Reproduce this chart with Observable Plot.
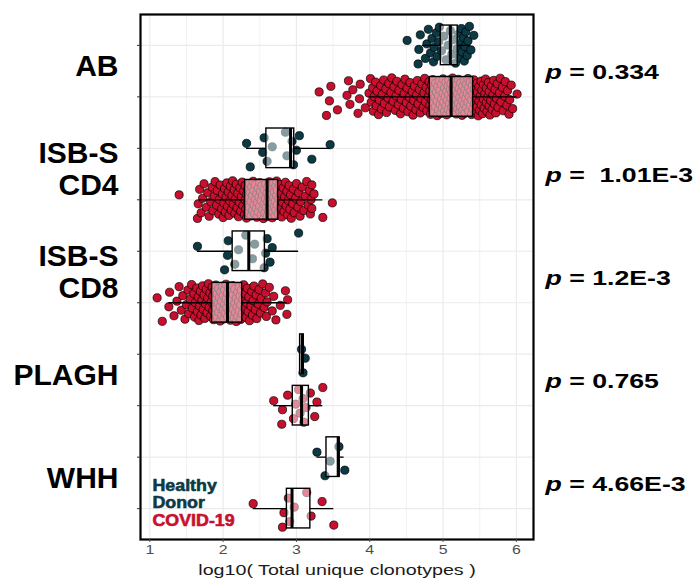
<!DOCTYPE html>
<html><head><meta charset="utf-8">
<script src="https://cdn.jsdelivr.net/npm/d3@7"></script>
<script src="https://cdn.jsdelivr.net/npm/@observablehq/plot@0.6"></script>
<style>body{margin:0;background:#fff;} svg{display:block;}</style>
</head><body><div id="chart"></div>
<script>
// ---- categories ----
const groups = ["AB", "ISB-S\nCD4", "ISB-S\nCD8", "PLAGH", "WHH"];
const conditions = ["Healthy", "COVID-19"];
const legendLabels = ["Healthy\nDonor", "COVID-19"];
const pValues = ["p = 0.334", "p =  1.01E-3", "p = 1.2E-3", "p = 0.765", "p = 4.66E-3"];
const xTicks = [1, 2, 3, 4, 5, 6];
const xMinor = [1.5, 2.5, 3.5, 4.5, 5.5];
const xLabel = "log10( Total unique clonotypes )";

// ---- box statistics per row (AB-H, AB-C, CD4-H, CD4-C, CD8-H, CD8-C, PLAGH-H, PLAGH-C, WHH-H, WHH-C) ----
const boxQ1     = [4.97, 4.82, 2.59, 2.30, 2.13, 1.85, 3.05, 2.95, 3.41, 2.87];
const boxMedian = [5.10, 5.11, 2.92, 2.60, 2.35, 2.06, 3.08, 3.07, 3.57, 2.94];
const boxQ3     = [5.20, 5.41, 2.97, 2.75, 2.57, 2.26, 3.10, 3.17, 3.59, 3.19];
const boxLow    = [4.72, 3.99, 2.32, 1.68, 1.65, 1.26, 3.05, 2.69, 3.28, 2.41];
const boxHigh   = [5.38, 6.01, 3.46, 3.36, 3.03, 2.87, 3.12, 3.36, 3.65, 3.51];

// ---- point values (log10 total unique clonotypes) ----
const abHealthy = [4.51,4.66,4.67,4.69,4.76,4.78,4.80,4.83,4.85,4.87,4.88,4.91,4.92,4.94,4.95,4.98,5.01,5.04,5.07,5.10,5.12,5.14,5.17,5.19,5.21,5.22,5.24,5.25,5.26,5.28,5.29,5.30,5.31,5.33,5.34,5.36,5.38,5.42];
const abCovid = [3.31,3.41,3.45,3.47,3.56,3.69,3.71,3.73,3.77,3.84,3.86,3.87,3.94,
 3.99,4.01,4.02,4.04,4.05,4.06,4.08,4.09,4.10,4.12,4.13,4.15,4.16,4.17,4.19,4.20,4.22,4.23,4.25,4.26,4.27,4.29,4.30,4.32,4.33,4.35,4.36,4.37,4.39,4.40,4.42,4.43,4.44,4.46,4.47,4.48,4.50,4.51,4.52,4.54,4.55,4.56,4.58,4.59,4.60,4.61,4.63,4.64,4.65,4.66,4.68,4.69,4.70,4.71,4.73,4.74,4.75,4.76,4.77,4.78,4.80,4.81,
 4.82,4.82,4.83,4.84,4.84,4.85,4.86,4.86,4.87,4.88,4.88,4.89,4.90,4.90,4.91,4.92,4.92,4.93,4.94,4.94,4.95,4.96,4.96,4.97,4.98,4.98,4.99,5.00,5.00,5.01,5.02,5.02,5.03,5.04,5.04,5.05,5.05,5.06,5.07,5.07,5.08,5.08,5.09,5.10,5.10,5.11,5.11,5.12,5.12,5.13,5.14,5.14,5.15,5.15,5.16,5.17,5.17,5.18,5.18,5.19,5.20,5.20,5.21,5.21,5.22,5.23,5.23,5.24,5.24,5.25,5.26,5.26,5.27,5.27,5.28,5.29,5.29,5.30,5.30,5.31,5.32,5.32,5.33,5.34,5.34,5.35,5.35,5.36,5.37,5.37,5.38,5.39,5.39,5.40,5.41,5.41,
 5.42,5.43,5.43,5.44,5.45,5.46,5.46,5.47,5.48,5.49,5.49,5.50,5.51,5.52,5.52,5.53,5.54,5.55,5.55,5.56,5.57,5.58,5.59,5.59,5.60,5.61,5.62,5.63,5.63,5.64,5.65,5.66,5.67,5.68,5.69,5.70,5.71,5.72,5.73,5.74,5.75,5.77,5.78,5.79,5.81,5.82,5.84,5.85,5.87,5.88,5.90,5.91,5.93,5.95,6.01];
const cd4Healthy = [2.32,2.37,2.54,2.56,2.60,2.67,2.85,2.87,2.94,2.96,3.00,3.04,3.21,3.46];
const cd4Covid = [1.40,1.65,1.66,1.68,1.70,1.72,1.74,1.77,1.79,1.81,1.83,1.85,1.86,1.88,1.89,1.91,1.92,1.94,1.95,1.96,1.98,1.99,2.00,2.01,2.02,2.03,2.04,2.05,2.06,2.07,2.08,2.09,2.10,2.11,2.12,2.13,2.14,2.15,2.16,2.17,2.18,2.19,2.20,2.21,2.22,2.23,2.24,2.25,2.26,2.27,2.28,2.29,
 2.30,2.30,2.31,2.32,2.32,2.33,2.34,2.34,2.35,2.36,2.36,2.37,2.38,2.38,2.39,2.40,2.40,2.41,2.42,2.42,2.43,2.44,2.44,2.45,2.46,2.46,2.47,2.48,2.48,2.49,2.50,2.50,2.51,2.52,2.52,2.53,2.54,2.54,2.55,2.56,2.56,2.57,2.58,2.58,2.59,2.60,2.60,2.61,2.61,2.62,2.62,2.63,2.63,2.64,2.64,2.65,2.65,2.66,2.66,2.67,2.67,2.68,2.68,2.69,2.69,2.70,2.70,2.71,2.71,2.72,2.72,2.73,2.73,2.74,2.74,2.75,
 2.76,2.77,2.78,2.79,2.80,2.81,2.82,2.83,2.84,2.85,2.86,2.87,2.88,2.89,2.90,2.91,2.92,2.93,2.95,2.96,2.97,2.99,3.00,3.02,3.03,3.05,3.06,3.08,3.10,3.12,3.14,3.16,3.18,3.19,3.20,3.21,3.21,3.24,3.36,3.49];
const cd8Healthy = [1.65,2.02,2.06,2.07,2.16,2.21,2.31,2.40,2.43,2.56,2.58,2.60,2.64,2.67,3.03];
const cd8Covid = [1.10,1.17,1.26,1.27,1.33,1.37,1.40,1.43,1.45,1.48,1.50,1.52,1.53,1.55,1.57,1.58,1.60,1.61,1.62,1.64,1.65,1.66,1.67,1.68,1.69,1.70,1.71,1.72,1.73,1.74,1.75,1.76,1.77,1.78,1.79,1.80,1.81,1.82,1.83,1.84,
 1.85,1.86,1.86,1.87,1.88,1.88,1.89,1.90,1.90,1.91,1.92,1.92,1.93,1.94,1.94,1.95,1.96,1.96,1.97,1.98,1.98,1.99,2.00,2.00,2.01,2.02,2.02,2.03,2.04,2.04,2.05,2.06,2.06,2.07,2.08,2.08,2.09,2.10,2.10,2.11,2.12,2.12,2.13,2.14,2.14,2.15,2.16,2.16,2.17,2.18,2.18,2.19,2.20,2.20,2.21,2.22,2.22,2.23,2.24,2.24,2.25,2.26,
 2.27,2.28,2.29,2.30,2.31,2.32,2.33,2.34,2.35,2.36,2.38,2.39,2.40,2.41,2.42,2.44,2.45,2.46,2.48,2.49,2.51,2.52,2.54,2.56,2.58,2.59,2.60,2.63,2.67,2.69,2.72,2.78,2.85,2.87,2.88];
const plaghHealthy = [3.07,3.09,3.12];
const plaghCovid = [2.69,2.80,2.81,2.88,2.96,2.99,3.03,3.05,3.09,3.10,3.13,3.19,3.25,3.28,3.36];
const whhHealthy = [3.28,3.39,3.46,3.58,3.66];
const whhCovid = [2.41,2.81,2.83,2.89,2.91,2.97,3.14,3.20,3.35,3.51];

// ---- colours ----
const colorHealthy = "#0b3a45";
const colorCovid = "#c8102e";

// ---- build tables ----
const rowValues = [abHealthy, abCovid, cd4Healthy, cd4Covid, cd8Healthy, cd8Covid, plaghHealthy, plaghCovid, whhHealthy, whhCovid];
const rowIdx = rowValues.map((_, r) => r);
const points = [];
rowValues.forEach((vals, r) => vals.forEach((v, i) => {
  // deterministic vertical jitter (layout only)
  const j = (((i * 0.6180339887 + 0.37) % 1) - 0.5) * 0.74;
  points.push({row: r, v, cond: conditions[r % 2], j});
}));
const boxes = rowIdx.map(r => ({row: r, q1: boxQ1[r], med: boxMedian[r], q3: boxQ3[r], lo: boxLow[r], hi: boxHigh[r]}));
const half = 0.385;

const font = "'Liberation Sans', Arial, Helvetica, sans-serif";

const chart = Plot.plot({
  width: 696, height: 581,
  marginLeft: 140, marginRight: 163, marginTop: 14, marginBottom: 42,
  style: {fontFamily: font, background: "white"},
  x: {domain: [0.873, 6.234]},
  y: {domain: [-0.6, 9.6], reverse: true},
  marks: [
    Plot.gridX({ticks: xMinor, stroke: "#ebebeb", strokeOpacity: 1, strokeWidth: 0.7}),
    Plot.gridX({ticks: xTicks, stroke: "#ebebeb", strokeOpacity: 1, strokeWidth: 1.2}),
    Plot.gridY({ticks: rowIdx, stroke: "#ebebeb", strokeOpacity: 1, strokeWidth: 1.2}),
    Plot.dot(points, {x: "v", y: d => d.row + d.j, r: 4.1,
      fill: d => d.cond === "Healthy" ? colorHealthy : colorCovid,
      stroke: "black", strokeWidth: 0.7}),
    Plot.ruleY(boxes, {y: "row", x1: "lo", x2: "q1", stroke: "black", strokeWidth: 1.3}),
    Plot.ruleY(boxes, {y: "row", x1: "q3", x2: "hi", stroke: "black", strokeWidth: 1.3}),
    Plot.rect(boxes, {x1: "q1", x2: "q3", y1: d => d.row - half, y2: d => d.row + half,
      fill: "white", fillOpacity: 0.5, stroke: "black", strokeWidth: 1.4}),
    Plot.ruleX(boxes, {x: "med", y1: d => d.row - half, y2: d => d.row + half, stroke: "black", strokeWidth: 3}),
    Plot.frame({stroke: "black", strokeWidth: 2.2}),
    Plot.axisX({ticks: xTicks, tickSize: 3, tickPadding: 3, fontSize: 12.5, color: "#4d4d4d", label: null, tickFormat: d => String(d)}),
    Plot.axisY({ticks: rowIdx, tickSize: 3, tickFormat: () => "", label: null, color: "#333"}),
    Plot.text(groups, {y: (d, i) => 2 * i + 0.5, text: d => d, frameAnchor: "left", dx: -22, dy: -5,
      textAnchor: "end", lineAnchor: "middle", fontSize: 30, fontWeight: "bold", fill: "black", lineHeight: 1.04}),
    Plot.text(pValues, {y: (d, i) => 2 * i + 0.5, text: d => d, frameAnchor: "right", dx: 12, dy: 1,
      textAnchor: "start", lineAnchor: "middle", fontSize: 21, fontWeight: "bold", fill: "black"}),
    Plot.text([legendLabels[0]], {text: d => d, frameAnchor: "bottom-left", dx: 12, dy: -45.5, textAnchor: "start",
      lineAnchor: "middle", fontSize: 16.5, fontWeight: "bold", fill: colorHealthy, stroke: colorHealthy, strokeWidth: 0.6, lineHeight: 1.06}),
    Plot.text([legendLabels[1]], {text: d => d, frameAnchor: "bottom-left", dx: 12, dy: -19, textAnchor: "start",
      lineAnchor: "middle", fontSize: 16.5, fontWeight: "bold", fill: colorCovid, stroke: colorCovid, strokeWidth: 0.6}),
    Plot.text([xLabel], {text: d => d, frameAnchor: "bottom", dy: 31, lineAnchor: "middle", fontSize: 15.5,
      fill: "#1a1a1a"})
  ]
});
document.getElementById("chart").appendChild(chart);

// horizontal stretch of ggplot-rendered text (layout only)
function stretch(node, k) {
  const t = node.getAttribute("transform") || "";
  const x = parseFloat(node.getAttribute("x")) || 0, y = parseFloat(node.getAttribute("y")) || 0;
  node.setAttribute("transform", `${t} translate(${x},${y}) scale(${k},1) translate(${-x},${-y})`);
}
const tickSet = new Set(xTicks.map(String));
const legendSet = new Set(legendLabels);
Array.from(chart.querySelectorAll("text")).forEach(node => {
  const s = node.textContent;
  if (pValues.includes(s)) {
    node.textContent = "";
    node.setAttribute("style", "white-space: pre");
    node.setAttributeNS("http://www.w3.org/XML/1998/namespace", "xml:space", "preserve");
    const ns = "http://www.w3.org/2000/svg";
    const t1 = document.createElementNS(ns, "tspan");
    t1.setAttribute("font-style", "italic");
    t1.textContent = s.slice(0, 1);
    const t2 = document.createElementNS(ns, "tspan");
    t2.textContent = s.slice(1);
    node.appendChild(t1); node.appendChild(t2);
    stretch(node, 1.27);
  } else if (s === xLabel || tickSet.has(s)) {
    stretch(node, 1.27);
  } else if (legendSet.has(s) || s === "HealthyDonor") {
    stretch(node, 1.08);
  }
});
</script>
</body></html>
